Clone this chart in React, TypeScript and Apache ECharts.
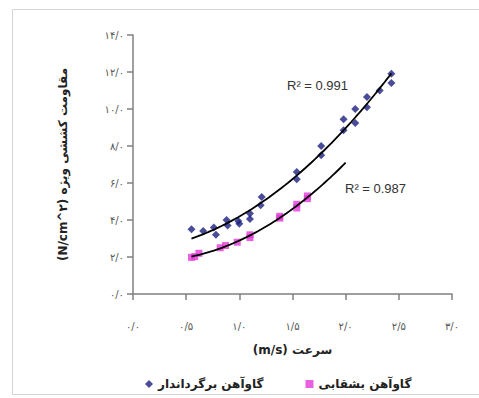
import React, { useEffect, useRef } from 'react';
import * as echarts from 'echarts';

const blueName = 'گاوآهن برگرداندار';
const pinkName = 'گاوآهن بشقابی';

const blueX = [0.55, 0.66, 0.76, 0.78, 0.88, 0.89, 0.99, 1.0, 1.1, 1.1, 1.2, 1.21, 1.54, 1.54, 1.77, 1.77, 1.98, 1.98, 2.09, 2.09, 2.2, 2.2, 2.32, 2.43, 2.43];
const blueY = [3.5, 3.4, 3.6, 3.2, 4.0, 3.7, 3.95, 3.8, 4.35, 4.05, 4.8, 5.25, 6.6, 6.2, 8.0, 7.5, 9.45, 8.85, 10.0, 9.25, 10.65, 10.1, 11.0, 11.9, 11.4];

const pinkX = [0.55, 0.58, 0.62, 0.82, 0.87, 0.98, 1.1, 1.1, 1.38, 1.38, 1.54, 1.54, 1.64, 1.64];
const pinkY = [1.98, 2.02, 2.2, 2.5, 2.62, 2.8, 3.05, 3.2, 4.1, 4.2, 4.65, 4.85, 5.15, 5.3];

const blueTrendRange = [0.55, 2.43];
const pinkTrendRange = [0.55, 2.0];
const blueR2 = 'R² = 0.991';
const pinkR2 = 'R² = 0.987';

const xTickLabels = ['۰/۰', '۰/۵', '۱/۰', '۱/۵', '۲/۰', '۲/۵', '۳/۰'];
const yTickLabels = ['۰/۰', '۲/۰', '۴/۰', '۶/۰', '۸/۰', '۱۰/۰', '۱۲/۰', '۱۴/۰'];
const xTitle = '(m/s) سرعت';
const yTitle = '(N/cm^۲) مقاومت کششی ویژه';

function fitQuad(xs: number[], ys: number[]): number[] {
  let s0 = 0, s1 = 0, s2 = 0, s3 = 0, s4 = 0, t0 = 0, t1 = 0, t2 = 0;
  for (let i = 0; i < xs.length; i++) {
    const x = xs[i], y = ys[i];
    s0 += 1; s1 += x; s2 += x * x; s3 += x * x * x; s4 += x * x * x * x;
    t0 += y; t1 += x * y; t2 += x * x * y;
  }
  const M = [
    [s4, s3, s2, t2],
    [s3, s2, s1, t1],
    [s2, s1, s0, t0],
  ];
  for (let i = 0; i < 3; i++) {
    let p = i;
    for (let r = i + 1; r < 3; r++) if (Math.abs(M[r][i]) > Math.abs(M[p][i])) p = r;
    [M[i], M[p]] = [M[p], M[i]];
    for (let r = 0; r < 3; r++) {
      if (r === i) continue;
      const f = M[r][i] / M[i][i];
      for (let c = i; c < 4; c++) M[r][c] -= f * M[i][c];
    }
  }
  return [M[0][3] / M[0][0], M[1][3] / M[1][1], M[2][3] / M[2][2]];
}

function trend(xs: number[], ys: number[], range: number[]): number[][] {
  const [a, b, c] = fitQuad(xs, ys);
  const out: number[][] = [];
  const n = 60;
  for (let i = 0; i <= n; i++) {
    const x = range[0] + ((range[1] - range[0]) * i) / n;
    out.push([x, a * x * x + b * x + c]);
  }
  return out;
}

export default function App() {
  const ref = useRef<HTMLDivElement>(null);
  useEffect(() => {
    document.body.style.margin = '0';
    const chart = echarts.init(ref.current!, null, { renderer: 'svg' });
    const axisColor = '#808080';
    chart.setOption({
      animation: false,
      backgroundColor: '#ffffff',
      grid: { left: 133, right: 27, top: 35, bottom: 104, containLabel: false, outerBoundsMode: 'none' },
      xAxis: {
        type: 'value',
        min: 0,
        max: 3,
        interval: 0.5,
        name: xTitle,
        nameLocation: 'middle',
        nameGap: 50,
        nameTextStyle: { fontFamily: 'DejaVu Sans', fontSize: 12, fontWeight: 'bold', color: '#222' },
        axisLine: { show: true, onZero: false, lineStyle: { color: axisColor, width: 1.5 } },
        axisTick: { show: true, inside: false, length: 6, lineStyle: { color: axisColor, width: 1.5 } },
        splitLine: { show: false },
        axisLabel: {
          margin: 27,
          fontFamily: 'DejaVu Sans',
          fontSize: 10,
          color: '#555',
          formatter: (v: number) => xTickLabels[Math.round(v / 0.5)] ?? '',
        },
      },
      yAxis: {
        type: 'value',
        min: 0,
        max: 14,
        interval: 2,
        name: yTitle,
        nameLocation: 'middle',
        nameGap: 64,
        nameRotate: 90,
        nameTextStyle: { fontFamily: 'DejaVu Sans', fontSize: 12, fontWeight: 'bold', color: '#222' },
        axisLine: { show: true, onZero: false, lineStyle: { color: axisColor, width: 1.5 } },
        axisTick: { show: true, inside: false, length: 6, lineStyle: { color: axisColor, width: 1.5 } },
        splitLine: { show: false },
        axisLabel: {
          margin: 9,
          fontFamily: 'DejaVu Sans',
          fontSize: 10,
          color: '#555',
          formatter: (v: number) => yTickLabels[Math.round(v / 2)] ?? '',
        },
      },
      legend: {
        left: 140,
        top: 373,
        itemWidth: 8,
        itemHeight: 8,
        itemGap: 42,
        textStyle: { fontFamily: 'DejaVu Sans', fontSize: 12, fontWeight: 'bold', color: '#222' },
        data: [
          { name: blueName, icon: 'diamond' },
          { name: pinkName, icon: 'rect' },
        ],
      },
      series: [
        {
          name: blueName,
          type: 'scatter',
          symbol: 'diamond',
          symbolSize: 8,
          itemStyle: { color: '#1c1f80' },
          data: blueX.map((x, i) => [x, blueY[i]]),
          z: 3,
        },
        {
          name: pinkName,
          type: 'scatter',
          symbol: 'rect',
          symbolSize: 7,
          itemStyle: { color: '#e23ad6' },
          data: pinkX.map((x, i) => [x, pinkY[i]]),
          z: 3,
        },
        {
          name: 'trendBlue',
          type: 'line',
          showSymbol: false,
          symbol: 'none',
          lineStyle: { color: '#000', width: 1.8 },
          data: trend(blueX, blueY, blueTrendRange),
          z: 4,
        },
        {
          name: 'trendPink',
          type: 'line',
          showSymbol: false,
          symbol: 'none',
          lineStyle: { color: '#000', width: 1.8 },
          data: trend(pinkX, pinkY, pinkTrendRange),
          z: 4,
        },
      ],
      graphic: [
        {
          type: 'rect',
          shape: { x: 12.5, y: 9.5, width: 480, height: 385 },
          style: { fill: 'none', stroke: '#d4d4d4', lineWidth: 1 },
          silent: true,
        },
        {
          type: 'text',
          x: 287,
          y: 85,
          style: { text: blueR2, fontFamily: 'Liberation Sans', fontSize: 13, fill: '#333', verticalAlign: 'middle' },
        },
        {
          type: 'text',
          x: 345,
          y: 188,
          style: { text: pinkR2, fontFamily: 'Liberation Sans', fontSize: 13, fill: '#333', verticalAlign: 'middle' },
        },
      ],
    });
    return () => chart.dispose();
  }, []);
  return <div ref={ref} style={{ position: 'absolute', left: 0, top: 0, width: 479, height: 398 }} />;
}
